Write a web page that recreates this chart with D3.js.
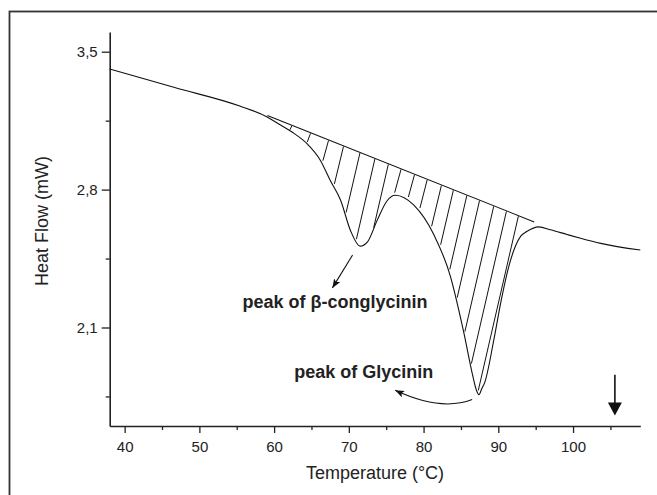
<!DOCTYPE html>
<html>
<head>
<meta charset="utf-8">
<script src="https://cdn.jsdelivr.net/npm/d3@7"></script>
<style>
  body { margin: 0; background: #fff; }
  svg text { font-family: "Liberation Sans", Arial, Helvetica, sans-serif; fill: #222; }
</style>
</head>
<body>
<svg id="chart" width="657" height="495"></svg>
<script>
// DSC trace
const temperature = [38, 46.7, 55.4, 59.0, 60.8, 62.4, 64.4, 66.2, 67.5, 68.9, 70.2, 71.5, 72.5, 73.8, 75.1, 76.2,
  78.7, 81.4, 83.6, 84.5, 85.4, 86.5, 87.0, 87.4, 87.8, 88.2, 89.4, 90.4, 91.4, 92.3, 93.0, 93.8, 95.4, 97.0, 99.2, 101.0, 103.7, 109.0];
const heatFlow = [3.412, 3.318, 3.224, 3.170, 3.129, 3.092, 3.033, 2.948, 2.847, 2.746, 2.594, 2.513, 2.535, 2.645, 2.742, 2.771,
  2.721, 2.569, 2.358, 2.223, 2.071, 1.869, 1.79, 1.759, 1.79, 1.823, 2.037, 2.240, 2.409, 2.514, 2.564, 2.587, 2.611, 2.596, 2.572, 2.553, 2.527, 2.493];

// integration baseline and hatching
const baselineTemp = [59.1, 94.8];
const baselineFlow = [3.176, 2.636];
const hatchTemps = [62.4, 64.9, 67.3, 69.3, 71.5, 73.5, 75.3, 77.0, 78.8, 80.5, 82.4, 84.0, 85.8, 87.5, 89.4, 91.1, 92.7];

// axes
const xDomain = [38, 109];
const yDomain = [1.6, 3.6];
const xTicks = [40, 50, 60, 70, 80, 90, 100];
const xMinorTicks = [45, 55, 65, 75, 85, 95, 105];
const yTicks = [3.5, 2.8, 2.1];
const yMinorTicks = [3.15, 2.45, 1.75];

// annotations
const labelTexts = ['peak of β-conglycinin', 'peak of Glycinin'];
const labelTemp = [68.14, 72.0];
const labelFlow = [2.199, 1.842];
const betaArrowTemp = [70.5, 67.8];
const betaArrowFlow = [2.468, 2.301];
const glyArrowTemp = [86.5, 82.3, 76.2];
const glyArrowFlow = [1.734, 1.673, 1.781];
const markerTemp = 105.6;
const markerFlow = [1.86, 1.653];

const svg = d3.select('#chart');

// outer frame (only top/left edges show inside the window)
svg.append('rect')
  .attr('x', 9.5).attr('y', 11.5)
  .attr('width', 700).attr('height', 600)
  .attr('fill', 'none')
  .attr('stroke', '#333')
  .attr('stroke-width', 1.8);

const x = d3.scaleLinear().domain(xDomain).range([109.7, 640.3]);
const y = d3.scaleLinear().domain(yDomain).range([426, 32]);

// x axis
svg.append('g')
  .attr('transform', 'translate(0,426)')
  .call(d3.axisBottom(x).tickValues(xTicks).tickSize(7).tickPadding(8).tickSizeOuter(0));
svg.append('g')
  .attr('transform', 'translate(0,426)')
  .call(d3.axisBottom(x).tickValues(xMinorTicks).tickSize(4).tickFormat('').tickSizeOuter(0))
  .select('.domain').remove();

// y axis
svg.append('g')
  .attr('transform', 'translate(109.7,0)')
  .call(d3.axisLeft(y).tickValues(yTicks).tickSize(8).tickPadding(4).tickSizeOuter(0)
    .tickFormat((d) => d.toFixed(1).replace('.', ',')));
svg.append('g')
  .attr('transform', 'translate(109.7,0)')
  .call(d3.axisLeft(y).tickValues(yMinorTicks).tickSize(4).tickFormat('').tickSizeOuter(0))
  .select('.domain').remove();

svg.selectAll('.domain').attr('stroke', '#222').attr('stroke-width', 1.6);
svg.selectAll('.tick line').attr('stroke', '#222').attr('stroke-width', 1.3);
svg.selectAll('.tick text').attr('font-size', 15).attr('font-family', null).attr('fill', '#222');

svg.append('text')
  .attr('x', (x.range()[0] + x.range()[1]) / 2)
  .attr('y', 479)
  .attr('text-anchor', 'middle')
  .attr('font-size', 18)
  .text('Temperature (°C)');

svg.append('text')
  .attr('transform', 'translate(48,221) rotate(-90)')
  .attr('text-anchor', 'middle')
  .attr('font-size', 18)
  .text('Heat Flow (mW)');

// markers for the annotation arrows
svg.append('defs').append('marker')
  .attr('id', 'head')
  .attr('markerUnits', 'userSpaceOnUse')
  .attr('markerWidth', 10).attr('markerHeight', 7)
  .attr('refX', 9).attr('refY', 3.5)
  .attr('orient', 'auto')
  .append('path')
  .attr('d', 'M0,0 L9,3.5 L0,7 L2,3.5 Z')
  .attr('fill', '#111');

// the DSC curve
const points = temperature.map((t, i) => [x(t), y(heatFlow[i])]);
const curvePath = svg.append('path')
  .attr('d', d3.line().curve(d3.curveMonotoneX)(points))
  .attr('fill', 'none')
  .attr('stroke', '#111')
  .attr('stroke-width', 1.1);

// sample the drawn path so hatching ends on it
const pathNode = curvePath.node();
const total = pathNode.getTotalLength();
const samples = [];
for (let s = 0; s <= total; s += 0.5) {
  samples.push(pathNode.getPointAtLength(s));
}
const bisect = d3.bisector((p) => p.x).left;
function curveY(px) {
  const i = Math.max(1, Math.min(samples.length - 1, bisect(samples, px)));
  const a = samples[i - 1];
  const b = samples[i];
  const f = b.x === a.x ? 0 : (px - a.x) / (b.x - a.x);
  return a.y + f * (b.y - a.y);
}

// baseline
const base = d3.scaleLinear().domain(baselineTemp).range(baselineFlow);
svg.append('line')
  .attr('x1', x(baselineTemp[0])).attr('y1', y(baselineFlow[0]))
  .attr('x2', x(baselineTemp[1])).attr('y2', y(baselineFlow[1]))
  .attr('stroke', '#111')
  .attr('stroke-width', 1.1);

function hitCurve(xb, yb, k) {
  let d = 0;
  while (d < 300) {
    const px = xb - k * d;
    if (yb + d >= curveY(px)) break;
    d += 0.25;
  }
  return d;
}

const hatch = svg.append('g');
hatchTemps.forEach((h) => {
  const xb = x(h);
  const yb = y(base(h));
  let k = 0.23;
  const d0 = hitCurve(xb, yb, k);
  k = 0.23 + 0.4 * Math.exp(-d0 / 12);
  const d = hitCurve(xb, yb, k);
  const top = 0.5;
  const bottom = Math.min(3, d * 0.15);
  hatch.append('line')
    .attr('x1', xb - k * top).attr('y1', yb + top)
    .attr('x2', xb - k * (d - bottom)).attr('y2', yb + d - bottom)
    .attr('stroke', '#111')
    .attr('stroke-width', 1);
});

// annotations
svg.selectAll('.peak-label')
  .data(labelTexts)
  .enter()
  .append('text')
  .attr('class', 'peak-label')
  .attr('x', (d, i) => x(labelTemp[i]))
  .attr('y', (d, i) => y(labelFlow[i]))
  .attr('text-anchor', 'middle')
  .attr('font-size', 18)
  .attr('font-weight', 'bold')
  .text((d) => d);

svg.append('line')
  .attr('x1', x(betaArrowTemp[0])).attr('y1', y(betaArrowFlow[0]))
  .attr('x2', x(betaArrowTemp[1])).attr('y2', y(betaArrowFlow[1]))
  .attr('stroke', '#111')
  .attr('stroke-width', 1.1)
  .attr('marker-end', 'url(#head)');

svg.append('path')
  .attr('d', 'M' + x(glyArrowTemp[0]) + ',' + y(glyArrowFlow[0]) +
    ' Q' + x(glyArrowTemp[1]) + ',' + y(glyArrowFlow[1]) +
    ' ' + x(glyArrowTemp[2]) + ',' + y(glyArrowFlow[2]))
  .attr('fill', 'none')
  .attr('stroke', '#111')
  .attr('stroke-width', 1.1)
  .attr('marker-end', 'url(#head)');

// end-of-run arrow
const mx = x(markerTemp);
const tipY = y(markerFlow[1]);
svg.append('line')
  .attr('x1', mx).attr('y1', y(markerFlow[0]))
  .attr('x2', mx).attr('y2', tipY - 10)
  .attr('stroke', '#111')
  .attr('stroke-width', 1.6);
svg.append('path')
  .attr('d', 'M' + (mx - 7) + ',' + (tipY - 13) + ' L' + (mx + 7) + ',' + (tipY - 13) + ' L' + mx + ',' + tipY + ' Z')
  .attr('fill', '#111');
</script>
</body>
</html>
